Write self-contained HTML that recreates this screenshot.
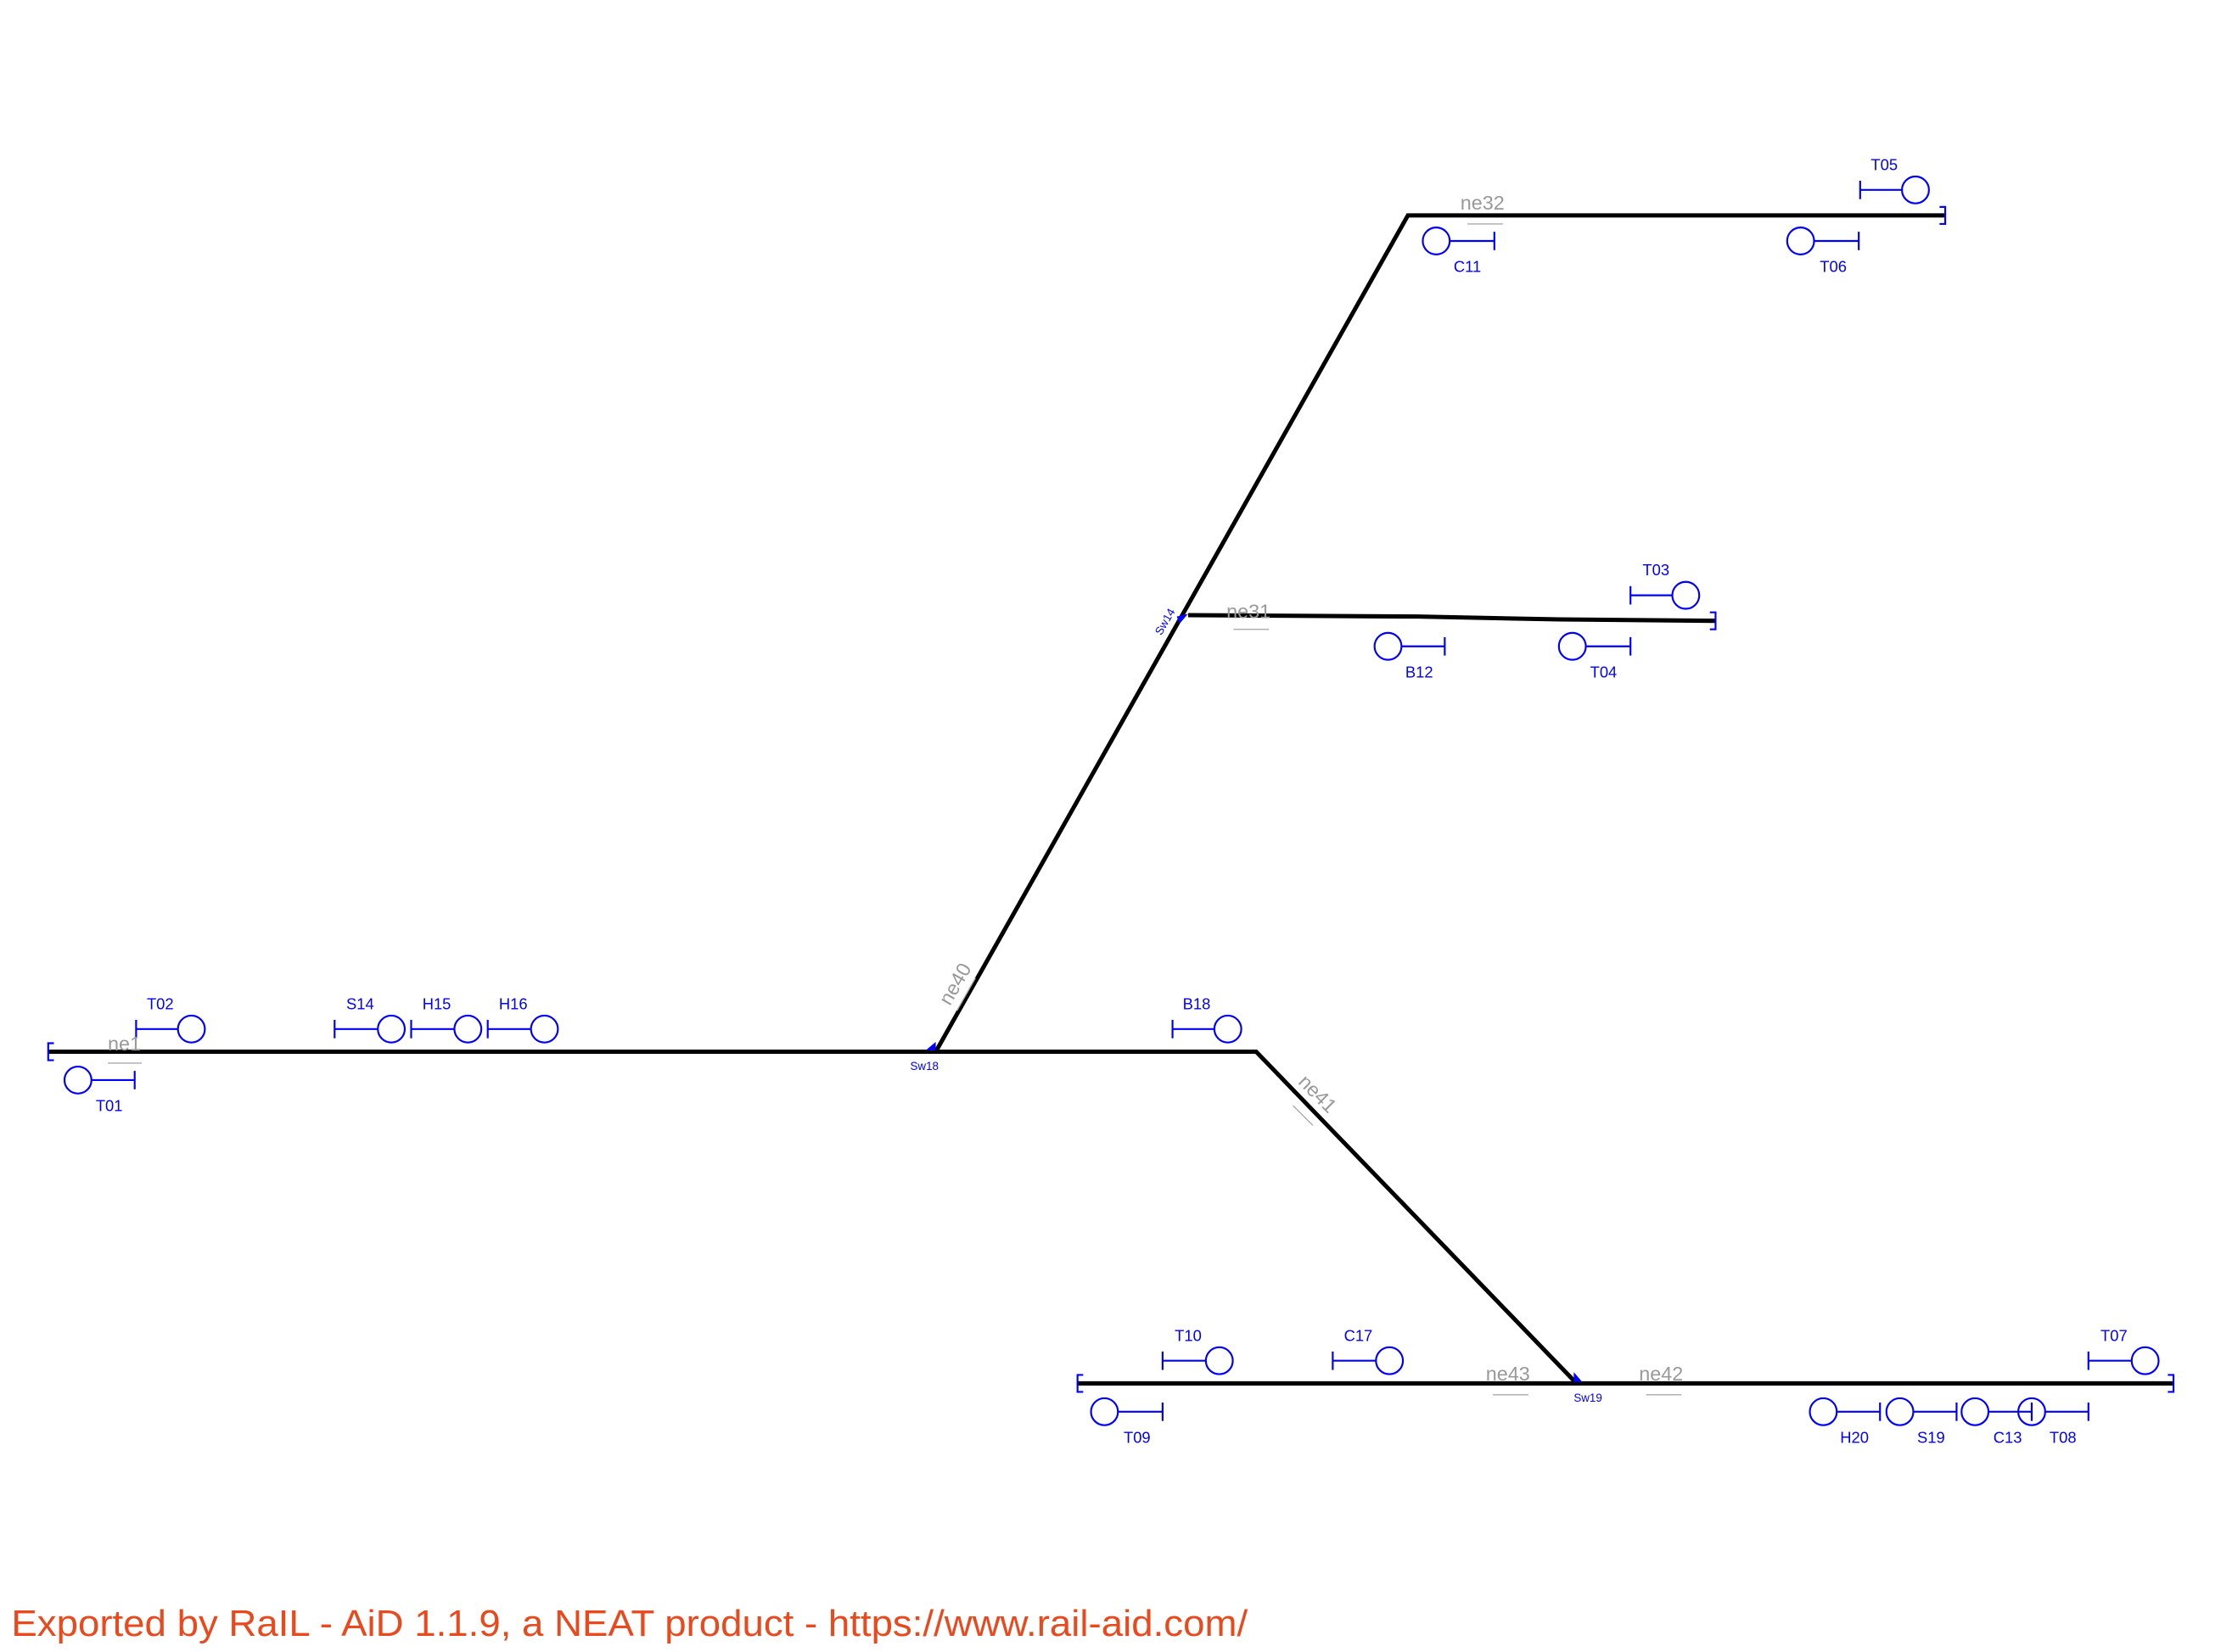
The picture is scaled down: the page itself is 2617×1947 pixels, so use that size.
<!DOCTYPE html>
<html><head><meta charset="utf-8"><style>
html,body{margin:0;padding:0;background:#fff;}
svg{display:block;}
text{font-family:"Liberation Sans",Arial,sans-serif;}
</style></head><body>
<svg id="plan" width="2617" height="1947" viewBox="0 0 1566.5 1165.5" preserveAspectRatio="none" xmlns="http://www.w3.org/2000/svg">
<g id="tracks" fill="none" stroke="#000" stroke-width="3"></g>
<g id="signals"></g>
<g id="netlabels"></g>
<text x="8" y="1154" font-size="26" fill="#e8491d" textLength="872" lengthAdjust="spacingAndGlyphs">Exported by RaIL - AiD  1.1.9, a NEAT product - https://www.rail-aid.com/</text>
</svg>
<script>
var NS='http://www.w3.org/2000/svg';
// track polylines (id, points)
var trackNames=['ne1-ne41-ne42','ne43','ne40-ne32','ne31'];
var trackPoints=[
 [[34,742],[886,742],[1112,976],[1533,976]],
 [[760,976],[1112,976]],
 [[660,742],[993,152],[1372,152]],
 [[838,434],[1000,435],[1100,437],[1210,438]]
];
// buffer stops: x, y, dir (-1 opens right, 1 opens left)
var stopX=[34,1372,1210,760,1533];
var stopY=[742,152,438,976,976];
var stopDir=[-1,1,1,-1,1];
// signals: name, circle x, tick x, y, label x, label y
var sigNames=['T02','S14','H15','H16','B18','T05','T03','T10','C17','T07','T01','C11','T06','B12','T04','T09','H20','S19','C13','T08'];
var sigCx=[135,276,330,384,866,1351,1189,860,980,1513,55,1013,1270,979,1109,779,1286,1340,1393,1433];
var sigTx=[96,236,290,344,827,1312,1150,820,940,1473,95,1054,1311,1019,1150,820,1326,1380,1433,1473];
var sigY=[726,726,726,726,726,134,420,960,960,960,762,170,170,456,456,996,996,996,996,996];
var labX=[113,254,308,362,844,1329,1168,838,958,1491,77,1035,1293,1001,1131,802,1308,1362,1416,1455];
var labY=[712,712,712,712,712,120,406,946,946,946,784,192,192,478,478,1018,1018,1018,1018,1018];
// net element labels: text, x, y, rotation, arrow x1,y1,x2,y2
var neNames=['ne1','ne32','ne31','ne43','ne42','ne40','ne41'];
var neX=[76,1030,865,1048,1156,670,915];
var neY=[741,148,436,974,974,710,764];
var neRot=[0,0,0,0,0,-60,45];
var neArrow=[[76,750,100,750],[1035,158,1060,158],[870,444,895,444],[1053,984,1078,984],[1161,984,1186,984],[675,713,688,690],[912,780,926,794]];
// switches: name, x, y, label x, label y, rotation
var swNames=['Sw18','Sw19','Sw14'];
var swX=[660,1110,838];
var swY=[742,976,434];
var swLX=[652,1120,824];
var swLY=[755,989,440];
var swRot=[0,0,-60];

var tg=document.getElementById('tracks');
for(var i=0;i<trackPoints.length;i++){
 var p=document.createElementNS(NS,'polyline');
 p.setAttribute('points',trackPoints[i].map(function(q){return q.join(',');}).join(' '));
 
 
 tg.appendChild(p);
}
for(var i=0;i<stopX.length;i++){
 var b=document.createElementNS(NS,'polyline');
 var x=stopX[i],y=stopY[i],d=stopDir[i];
 b.setAttribute('points',(x-d*4)+','+(y-6)+' '+x+','+(y-6)+' '+x+','+(y+6)+' '+(x-d*4)+','+(y+6));
 b.setAttribute('stroke','#0000ff');b.setAttribute('stroke-width','1.3');b.setAttribute('fill','none');
 
 
 tg.appendChild(b);
}
var sg=document.getElementById('signals');
for(var i=0;i<sigNames.length;i++){
 var g=document.createElementNS(NS,'g');
 
 
 g.setAttribute('stroke','#0000ff');g.setAttribute('stroke-width','1.3');g.setAttribute('fill','none');
 var cx=sigCx[i],tx=sigTx[i],y=sigY[i],dir=cx>tx?1:-1;
 var l=document.createElementNS(NS,'line');
 l.setAttribute('x1',tx);l.setAttribute('y1',y);l.setAttribute('x2',cx-dir*9.5);l.setAttribute('y2',y);g.appendChild(l);
 var t=document.createElementNS(NS,'line');
 t.setAttribute('x1',tx);t.setAttribute('y1',y-6.5);t.setAttribute('x2',tx);t.setAttribute('y2',y+6.5);g.appendChild(t);
 var c=document.createElementNS(NS,'circle');
 c.setAttribute('cx',cx);c.setAttribute('cy',y);c.setAttribute('r',9.5);g.appendChild(c);
 sg.appendChild(g);
 var tx2=document.createElementNS(NS,'text');
 tx2.setAttribute('x',labX[i]);tx2.setAttribute('y',labY[i]);tx2.setAttribute('font-size','11');
 tx2.setAttribute('fill','#0000ff');tx2.setAttribute('text-anchor','middle');
 tx2.textContent=sigNames[i];
 
 
 sg.appendChild(tx2);
}
var ng=document.getElementById('netlabels');
for(var i=0;i<neNames.length;i++){
 var t=document.createElementNS(NS,'text');
 t.setAttribute('x',neX[i]);t.setAttribute('y',neY[i]);t.setAttribute('font-size','14');t.setAttribute('fill','#999');
 if(neRot[i])t.setAttribute('transform','rotate('+neRot[i]+' '+neX[i]+' '+neY[i]+')');
 t.textContent=neNames[i];
 
 
 ng.appendChild(t);
 var a=neArrow[i],l=document.createElementNS(NS,'line');
 l.setAttribute('x1',a[0]);l.setAttribute('y1',a[1]);l.setAttribute('x2',a[2]);l.setAttribute('y2',a[3]);
 l.setAttribute('stroke','#aaa');l.setAttribute('stroke-width','0.8');
 
 
 ng.appendChild(l);
}
for(var i=0;i<swNames.length;i++){
 var x=swX[i],y=swY[i];
 var tri=document.createElementNS(NS,'polygon');
 var pts=swRot[i]?[[x-8,y+1],[x,y-1],[x-6,y+6]]:[[x-7,y-1],[x,y-1],[x,y-7]];
 if(i==1)pts=[[x,y-8],[x,y-1],[x+6,y-1]];
 tri.setAttribute('points',pts.map(function(q){return q.join(',');}).join(' '));
 tri.setAttribute('fill','#0000ff');
 
 
 ng.appendChild(tri);
 var t=document.createElementNS(NS,'text');
 t.setAttribute('x',swLX[i]);t.setAttribute('y',swLY[i]);t.setAttribute('font-size','8');t.setAttribute('fill','#0000ff');t.setAttribute('text-anchor','middle');
 if(swRot[i])t.setAttribute('transform','rotate('+swRot[i]+' '+swLX[i]+' '+swLY[i]+')');
 t.textContent=swNames[i];
 
 
 ng.appendChild(t);
}
</script>
</body></html>
